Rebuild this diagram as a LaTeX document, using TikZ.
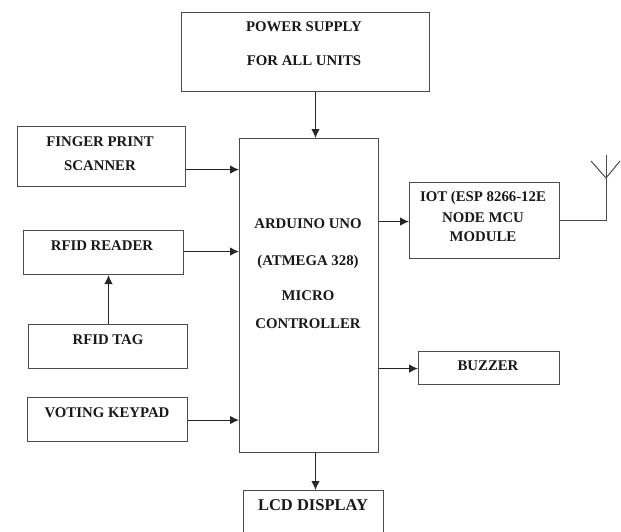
\documentclass[tikz,border=0pt]{standalone}
\usepackage{fontspec}
\setmainfont{Liberation Serif}
\usetikzlibrary{arrows.meta,calc}
\definecolor{edge}{RGB}{75,75,75}
\tikzset{
  x=1pt,y=-1pt,
  box/.style={draw=edge,line width=1.1pt,rectangle,inner sep=0pt,anchor=north west},
  txt/.style={font=\fontsize{14.8}{16}\selectfont\bfseries,inner sep=0pt,text=black!90,anchor=center,yshift=-1pt},
  conn/.style={draw=black!85,line width=1.1pt,-{Latex[length=9pt,width=8.5pt]}},
  wire/.style={draw=edge,line width=1pt}
}
\newcommand{\bx}[5]{\node[box,minimum width=#4pt,minimum height=#5pt] (#1) at (#2,#3) {};}
\begin{document}
\begin{tikzpicture}
\useasboundingbox (0,0) rectangle (621,531);
\clip (0,0) rectangle (621,531);
\bx{power}{181}{12}{248}{79}
\bx{fp}{17}{126}{168}{60}
\bx{reader}{23}{230}{160}{44}
\bx{tag}{28}{324}{159}{44}
\bx{keypad}{27}{397}{160}{44}
\bx{mcu}{239}{138}{139}{314}
\bx{iot}{409}{182}{150}{76}
\bx{buzzer}{418}{351}{141}{33}
\bx{lcd}{243}{490}{140}{60}
\node[txt] (t1) at (304,26) {POWER SUPPLY};
\node[txt] (t2) at (304,60) {FOR ALL UNITS};
\node[txt] (t3) at (100,141) {FINGER PRINT};
\node[txt] (t4) at (100,165) {SCANNER};
\node[txt] (t5) at (102,245) {RFID READER};
\node[txt] (t6) at (108,339) {RFID TAG};
\node[txt] (t7) at (107,412) {VOTING KEYPAD};
\node[txt] (t8) at (308,223) {ARDUINO UNO};
\node[txt] (t9) at (308,261) {(ATMEGA 328)};
\node[txt] (t10) at (308,295) {MICRO};
\node[txt] (t11) at (308,323) {CONTROLLER};
\node[txt] (t12) at (483,197) {IOT (ESP 8266-12E};
\node[txt] (t13) at (483,217) {NODE MCU};
\node[txt] (t14) at (483,236) {MODULE};
\node[txt] (t15) at (488,365) {BUZZER};
\node[txt,font=\fontsize{16.5}{18}\selectfont\bfseries] (t16) at (313,504) {LCD DISPLAY};
\draw[conn] (power.south -| 315.5,91) -- (mcu.north -| 315.5,138);
\draw[conn] ([yshift=-13pt]fp.east) -- ([yshift=-13pt]fp.east -| mcu.west);
\draw[conn] ([yshift=1pt]reader.east) -- ([yshift=1pt]reader.east -| mcu.west);
\draw[conn] (tag.north -| 108.5,324) -- (reader.south -| 108.5,274);
\draw[conn] ([yshift=-0.5pt]keypad.east) -- ([yshift=-0.5pt]keypad.east -| mcu.west);
\draw[conn] (mcu.south -| 315.5,452) -- (lcd.north -| 315.5,490);
\draw[conn] ([yshift=-1pt]iot.west -| mcu.east) -- ([yshift=-1pt]iot.west);
\draw[conn] ([yshift=-0.5pt]buzzer.west -| mcu.east) -- ([yshift=-0.5pt]buzzer.west);
\coordinate (ant) at (606,220);
\coordinate (apex) at (606,178);
\coordinate (top) at (606,155);
\coordinate (vl) at (591,161);
\coordinate (vr) at (620,161);
\draw[wire] (iot.east |- ant) -- (ant) -- (top);
\draw[wire] (vl) -- (apex) -- (vr);
\end{tikzpicture}
\end{document}
